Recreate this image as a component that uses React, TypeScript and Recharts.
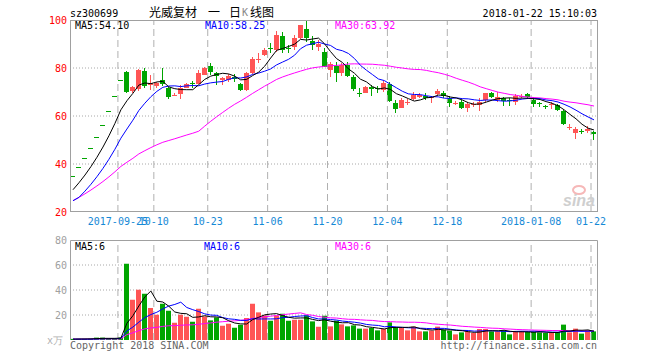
import React from 'react';
import { ComposedChart, Bar, Line, XAxis, YAxis, CartesianGrid, ReferenceLine } from 'recharts';

const dates = [
  '2017-09-13','2017-09-14','2017-09-15','2017-09-18','2017-09-19','2017-09-20','2017-09-21','2017-09-22','2017-09-25','2017-09-26','2017-09-27','2017-09-28','2017-09-29',
  '2017-10-09','2017-10-10','2017-10-11','2017-10-12','2017-10-13','2017-10-16','2017-10-17','2017-10-18','2017-10-19','2017-10-20','2017-10-23','2017-10-24','2017-10-25','2017-10-26','2017-10-27','2017-10-30','2017-10-31',
  '2017-11-01','2017-11-02','2017-11-03','2017-11-06','2017-11-07','2017-11-08','2017-11-09','2017-11-10','2017-11-13','2017-11-14','2017-11-15','2017-11-16','2017-11-17','2017-11-20','2017-11-21','2017-11-22','2017-11-23','2017-11-24','2017-11-27','2017-11-28','2017-11-29','2017-11-30',
  '2017-12-01','2017-12-04','2017-12-05','2017-12-06','2017-12-07','2017-12-08','2017-12-11','2017-12-12','2017-12-13','2017-12-14','2017-12-15','2017-12-18','2017-12-19','2017-12-20','2017-12-21','2017-12-22','2017-12-25','2017-12-26','2017-12-27','2017-12-28','2017-12-29',
  '2018-01-02','2018-01-03','2018-01-04','2018-01-05','2018-01-08','2018-01-09','2018-01-10','2018-01-11','2018-01-12','2018-01-15','2018-01-16','2018-01-17','2018-01-18','2018-01-19','2018-01-22',
];

const opens = [
  35.1, 38.6, 42.4, 46.6, 51.3, 56.4, 62.0, 68.2, 75.0, 78.3,
  70.3, 71.1, 78.8, 72.8, 72.2, 75.0, 71.5, 68.6, 69.4, 71.8,
  73.6, 73.6, 77.1, 80.8, 78.1, 75.0, 75.0, 76.1, 73.3, 70.8,
  77.8, 83.3, 85.4, 88.5, 87.5, 93.3, 88.5, 88.5, 92.4, 96.1,
  91.4, 88.9, 86.8, 79.2, 80.8, 77.8, 81.3, 76.4, 69.6, 69.7,
  72.2, 71.8, 70.8, 73.3, 65.6, 63.2, 65.7, 67.0, 67.8, 68.3,
  67.2, 69.2, 69.7, 67.4, 65.4, 66.0, 63.2, 64.6, 64.6, 66.4,
  69.4, 66.9, 67.4, 66.8, 66.0, 68.2, 69.0, 66.7, 65.3, 64.0,
  64.7, 64.5, 62.1, 55.0, 53.1, 53.9, 53.4, 53.4,
];
const highs = [
  35.1, 38.6, 42.4, 46.6, 51.3, 56.4, 62.0, 68.2, 75.0, 78.6,
  72.4, 79.4, 79.9, 77.1, 74.3, 79.9, 72.2, 69.6, 72.9, 73.9,
  74.7, 79.2, 80.6, 81.9, 78.5, 76.4, 77.5, 77.5, 73.9, 78.5,
  84.7, 86.1, 88.5, 90.3, 95.6, 95.1, 89.6, 93.8, 97.9, 100.0,
  93.3, 91.7, 88.2, 82.6, 82.6, 81.9, 82.4, 77.1, 71.5, 72.5,
  72.9, 72.5, 74.6, 74.3, 66.7, 67.4, 67.0, 70.1, 69.4, 69.4,
  68.3, 71.3, 70.4, 68.3, 66.4, 66.7, 66.0, 65.7, 67.4, 69.7,
  70.1, 69.9, 67.8, 67.6, 69.2, 69.2, 69.7, 67.4, 65.7, 64.6,
  65.7, 65.1, 62.3, 56.5, 55.4, 54.5, 55.8, 53.9,
];
const lows = [
  35.1, 38.6, 42.4, 46.6, 51.3, 56.4, 62.0, 68.2, 75.0, 69.5,
  69.4, 70.6, 71.5, 70.8, 71.8, 72.6, 66.9, 68.2, 67.1, 71.5,
  71.5, 73.2, 77.1, 77.1, 72.9, 72.9, 74.3, 74.3, 70.6, 70.6,
  77.5, 81.9, 85.1, 86.1, 86.8, 86.4, 86.1, 87.5, 92.0, 91.0,
  87.5, 87.2, 80.4, 76.4, 74.3, 76.7, 76.4, 70.6, 67.8, 69.4,
  68.3, 69.4, 70.1, 66.0, 61.1, 63.2, 64.6, 66.7, 67.4, 66.7,
  65.3, 68.8, 67.4, 63.9, 64.6, 62.9, 61.8, 63.9, 62.2, 66.0,
  67.4, 66.0, 64.2, 64.3, 64.6, 67.4, 66.9, 63.9, 63.9, 62.9,
  62.9, 62.1, 56.1, 54.0, 50.6, 52.7, 53.1, 50.0,
];
const closes = [
  35.1, 38.6, 42.4, 46.6, 51.3, 56.4, 62.0, 68.2, 75.0, 70.1,
  71.9, 79.2, 72.6, 73.6, 73.6, 73.2, 67.6, 68.9, 71.8, 73.3,
  73.2, 78.1, 79.9, 78.5, 76.8, 75.7, 76.7, 75.3, 70.8, 77.8,
  83.6, 83.9, 87.5, 87.9, 93.8, 87.5, 88.1, 92.4, 97.9, 92.4,
  89.6, 90.0, 80.6, 81.7, 77.8, 81.3, 76.7, 71.5, 69.4, 72.2,
  71.5, 71.5, 73.9, 66.4, 63.2, 66.7, 66.0, 68.8, 68.8, 67.6,
  67.8, 70.6, 68.3, 65.3, 65.6, 63.6, 65.0, 64.9, 66.0, 69.4,
  67.8, 68.1, 66.0, 66.5, 68.3, 68.5, 67.6, 65.0, 65.0, 63.9,
  65.0, 62.5, 56.6, 55.3, 54.7, 53.7, 54.4, 52.7,
];
// 成交量（万手）
const volumes = [
  0.9, 0.9, 0.9, 1.0, 1.9, 1.9, 0.9, 0.9, 2.0, 61.0,
  32.2, 40.2, 37.0, 25.6, 20.2, 29.0, 23.4, 13.8, 20.2, 18.6,
  14.6, 25.0, 18.9, 15.7, 18.1, 11.4, 13.0, 9.8, 12.2, 17.6,
  29.0, 22.1, 19.7, 15.4, 19.4, 21.0, 15.4, 16.2, 16.2, 19.7,
  14.9, 10.6, 19.4, 10.9, 15.5, 12.5, 10.9, 11.7, 9.1, 9.1,
  9.6, 7.7, 8.8, 14.1, 10.4, 9.6, 7.7, 10.7, 6.9, 6.9,
  7.5, 10.7, 8.3, 7.5, 4.5, 6.1, 6.9, 5.6, 8.8, 8.8,
  6.9, 6.9, 7.7, 4.5, 6.9, 6.9, 6.4, 6.4, 6.1, 5.6,
  5.6, 6.4, 12.3, 6.1, 9.1, 5.1, 7.7, 6.9,
];
// history before the visible window (listing days), used for moving averages
const priorCloses = [16.4, 18.0, 19.8, 21.8, 24.0, 26.4, 29.0, 31.9];
const priorVolumes = [1.5, 0.3, 0.3, 0.4, 0.5, 0.6, 0.7, 0.8];

const tickDates = ['2017-09-25', '2017-10-10', '2017-10-23', '2017-11-06', '2017-11-20', '2017-12-04', '2017-12-18', '2018-01-08', '2018-01-22'];
const tickLabels = ['2017-09-25', '10-10', '10-23', '11-06', '11-20', '12-04', '12-18', '2018-01-08', '01-22'];
const priceTicks = [20, 40, 60, 80, 100];
const volumeTicks = [0, 20, 40, 60, 80];

const RED = '#ff5555';
const GREEN = '#00a500';
const MONO = '"DejaVu Sans Mono", monospace';
const CJK = '"Noto Sans CJK SC", sans-serif';

const movingAvg = (arr: number[], n: number, idx: number) => {
  const s = Math.max(0, idx - n + 1);
  let sum = 0;
  for (let k = s; k <= idx; k++) sum += arr[k];
  return sum / (idx - s + 1);
};

const allCloses = [...priorCloses, ...closes];
const allVolumes = [...priorVolumes, ...volumes];
const data = dates.map((d, i) => {
  const j = i + priorCloses.length;
  return {
    date: d,
    open: opens[i],
    high: highs[i],
    low: lows[i],
    close: closes[i],
    range: [lows[i], highs[i]],
    ma5: movingAvg(allCloses, 5, j),
    ma10: movingAvg(allCloses, 10, j),
    ma30: movingAvg(allCloses, 30, j),
    volume: volumes[i],
    vma5: movingAvg(allVolumes, 5, j),
    vma10: movingAvg(allVolumes, 10, j),
    vma30: movingAvg(allVolumes, 30, j),
  };
});

const Candle = (props: any) => {
  const { x, y, height, payload } = props;
  if (!payload || x == null || y == null) return null;
  const { open, close, high, low } = payload;
  const span = high - low;
  const h = height || 0;
  const yOf = (v: number) => (span > 0 ? y + ((high - v) / span) * h : y);
  const up = close > open;
  const color = up ? RED : GREEN;
  const bx = Math.round(x);
  const yo = yOf(open);
  const yc = yOf(close);
  const top = Math.round(Math.min(yo, yc));
  const bh = Math.max(1, Math.round(Math.abs(yo - yc)));
  const yh = Math.round(yOf(high));
  const yl = Math.round(yOf(low));
  return (
    <g>
      <rect x={bx + 2} y={yh} width={1} height={Math.max(1, yl - yh)} fill={color} />
      <rect x={bx} y={top} width={5} height={bh} fill={color} />
    </g>
  );
};

const VolBar = (props: any) => {
  const { x, y, height, payload } = props;
  if (!payload || x == null || y == null) return null;
  const color = payload.close > payload.open ? RED : GREEN;
  return <rect x={Math.round(x)} y={y} width={5} height={Math.max(0, height)} fill={color} />;
};

const DateTick = (props: any) => {
  const { x, payload } = props;
  const idx = tickDates.indexOf(payload.value);
  return (
    <text x={x - 3} y={225} textAnchor="middle" fontSize={10} fontFamily={MONO} fill="#1589d6">
      {idx >= 0 ? tickLabels[idx] : ''}
    </text>
  );
};

const PriceTick = (props: any) => {
  const { y, payload } = props;
  return (
    <text x={67} y={y + 3.5} textAnchor="end" fontSize={10} fontFamily={MONO} fill="#ff0000">
      {payload.value}
    </text>
  );
};

const VolTick = (props: any) => {
  const { y, payload } = props;
  if (payload.value === 0) {
    return (
      <text x={63} y={y + 4} textAnchor="end" fontSize={10} fontFamily={MONO} fill="#b0b0b0">
        x万
      </text>
    );
  }
  return (
    <text x={67} y={y + 3.5} textAnchor="end" fontSize={10} fontFamily={MONO} fill="#a0a0a0">
      {payload.value}
    </text>
  );
};

export default function App() {
  return (
    <div style={{ position: 'absolute', left: 0, top: 0, width: 660, height: 360, background: '#fff', overflow: 'hidden' }}>
      <div style={{ position: 'absolute', left: 0, top: 0 }}>
        <ComposedChart width={660} height={232} data={data} margin={{ top: 20, right: 63, bottom: 0, left: 0 }} barCategoryGap={0} barGap={0}>
          <CartesianGrid vertical={false} horizontalValues={[40, 60, 80]} stroke="#a8a8a8" strokeDasharray="1 2" />
          <XAxis dataKey="date" ticks={tickDates} interval={0} height={20} tickLine={false} axisLine={false} tick={DateTick} />
          <YAxis domain={[20, 100]} ticks={priceTicks} width={70} tickLine={false} axisLine={false} tick={PriceTick} allowDataOverflow />
          {tickDates.map((d) => (
            <ReferenceLine key={d} x={d} position="start" stroke="#b0b0b0" strokeDasharray="7 4" />
          ))}
          <Bar dataKey="range" shape={Candle} isAnimationActive={false} />
          <Line type="linear" dataKey="ma30" stroke="#ff00ff" strokeWidth={1} dot={false} isAnimationActive={false} />
          <Line type="linear" dataKey="ma10" stroke="#0000ff" strokeWidth={1} dot={false} isAnimationActive={false} />
          <Line type="linear" dataKey="ma5" stroke="#000000" strokeWidth={1} dot={false} isAnimationActive={false} />
        </ComposedChart>
      </div>
      <div style={{ position: 'absolute', left: 0, top: 0 }}>
        <ComposedChart width={660} height={360} data={data} margin={{ top: 240, right: 63, bottom: 20, left: 0 }} barCategoryGap={0} barGap={0}>
          <CartesianGrid vertical={false} horizontalValues={[20, 40, 60]} stroke="#a8a8a8" strokeDasharray="1 2" />
          <XAxis dataKey="date" hide />
          <YAxis domain={[0, 80]} ticks={volumeTicks} width={70} tickLine={false} axisLine={false} tick={VolTick} allowDataOverflow />
          {tickDates.map((d) => (
            <ReferenceLine key={d} x={d} position="start" stroke="#b0b0b0" strokeDasharray="7 4" />
          ))}
          <Bar dataKey="volume" shape={VolBar} isAnimationActive={false} />
          <Line type="linear" dataKey="vma30" stroke="#ff00ff" strokeWidth={1} dot={false} isAnimationActive={false} />
          <Line type="linear" dataKey="vma10" stroke="#0000ff" strokeWidth={1} dot={false} isAnimationActive={false} />
          <Line type="linear" dataKey="vma5" stroke="#000000" strokeWidth={1} dot={false} isAnimationActive={false} />
        </ComposedChart>
      </div>
      <svg width={660} height={360} style={{ position: 'absolute', left: 0, top: 0, pointerEvents: 'none' }}>
        <rect x={70.5} y={20.5} width={527} height={191} fill="none" stroke="#a0a0a0" />
        <path d="M70.5,340 V240.5 H597.5 V340" fill="none" stroke="#a0a0a0" />
        <text x={70} y={16.5} fontSize={10} fontFamily={MONO} fill="#000">sz300699</text>
        <text x={149} y={17} fontSize={12} fontFamily={CJK} fill="#000">光威复材</text>
        <text x={208} y={17} fontSize={12} fontFamily={CJK} fill="#000">一</text>
        <text x={229} y={17} fontSize={12} fontFamily={CJK} fill="#000">日</text>
        <text x={242} y={16} fontSize={10} fontFamily={MONO} fill="#888">K</text>
        <text x={250} y={17} fontSize={12} fontFamily={CJK} fill="#000">线图</text>
        <text x={597} y={16.5} textAnchor="end" fontSize={10} fontFamily={MONO} fill="#000">2018-01-22 15:10:03</text>
        <text x={75} y={29} fontSize={10} fontFamily={MONO} fill="#000">MA5:54.10</text>
        <text x={205} y={29} fontSize={10} fontFamily={MONO} fill="#0000ff">MA10:58.25</text>
        <text x={335} y={29} fontSize={10} fontFamily={MONO} fill="#ff00ff">MA30:63.92</text>
        <text x={75} y={250} fontSize={10} fontFamily={MONO} fill="#000">MA5:6</text>
        <text x={204} y={250} fontSize={10} fontFamily={MONO} fill="#0000ff">MA10:6</text>
        <text x={335} y={250} fontSize={10} fontFamily={MONO} fill="#ff00ff">MA30:6</text>
        <ellipse cx={579} cy={190} rx={6} ry={4} fill="none" stroke="#f6b8b8" strokeWidth={2} />
        <text x={563} y={206} fontSize={16} fontStyle="italic" fontWeight="bold" fontFamily='"Liberation Sans", sans-serif' fill="#cfcfcf">sina</text>
        <text x={70} y={349} fontSize={10} fontFamily={MONO} fill="#666">Copyright 2018 SINA.COM</text>
        <text x={597} y={349} textAnchor="end" fontSize={10} fontFamily={MONO} fill="#666">http://finance.sina.com.cn</text>
      </svg>
    </div>
  );
}
